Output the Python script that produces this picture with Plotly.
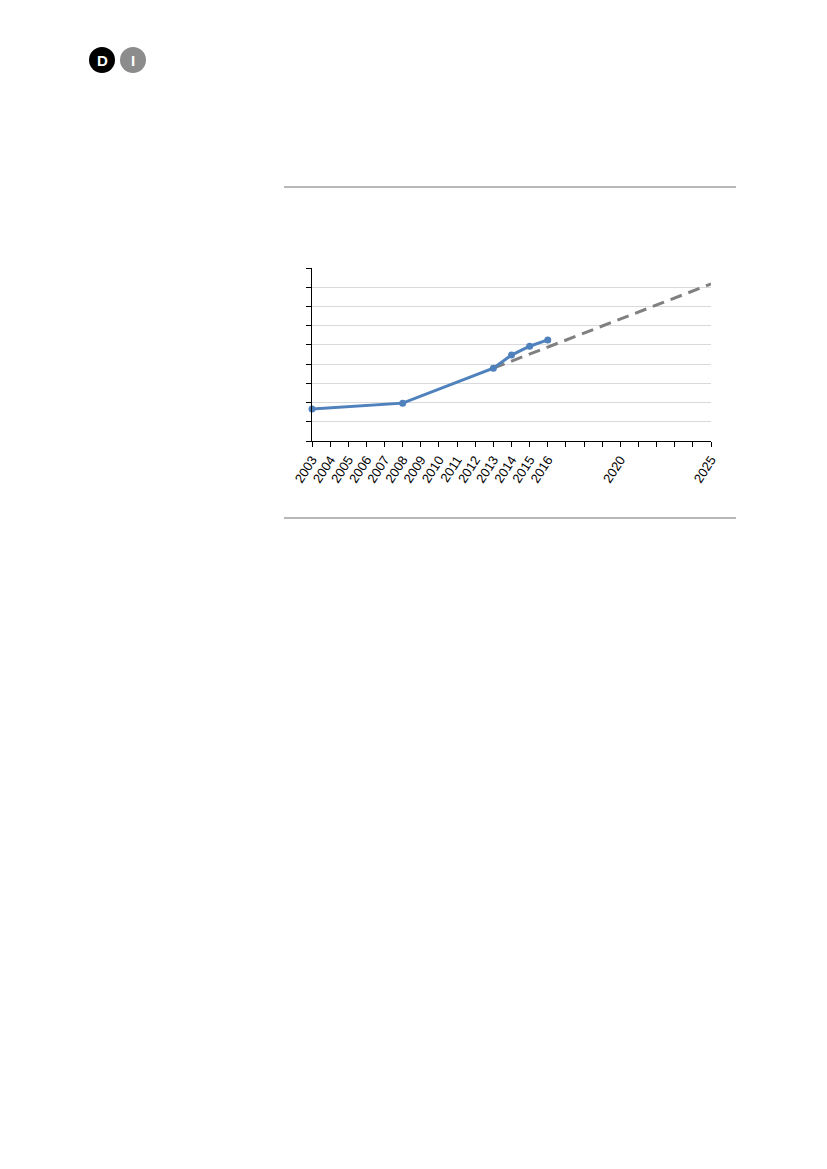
import plotly.graph_objects as go

# data (y axis carries no labels, units = gridline steps)
years = [2003, 2008, 2013, 2014, 2015, 2016]
values = [1.67, 1.97, 3.79, 4.47, 4.93, 5.26]
trend_years = [2013, 2025]
trend_values = [3.79, 8.17]
tick_years = list(range(2003, 2026))
labelled = [2003, 2004, 2005, 2006, 2007, 2008, 2009, 2010, 2011, 2012,
            2013, 2014, 2015, 2016, 2020, 2025]
tick_text = [str(y) if y in labelled else "" for y in tick_years]

W, H = 827, 1169
L, R, T, B = 312, 711, 268, 441


def px(x):
    return (x - L) / (R - L)


def py(y):
    return (B - y) / (B - T)


fig = go.Figure()
fig.add_trace(go.Scatter(x=trend_years, y=trend_values, mode="lines",
                         line=dict(color="#808080", width=3, dash="12px,7px"),
                         cliponaxis=False, showlegend=False))
fig.add_trace(go.Scatter(x=years, y=values, mode="lines+markers",
                         line=dict(color="#4F81BD", width=3),
                         marker=dict(color="#4F81BD", size=7),
                         cliponaxis=False, showlegend=False))

shapes = []
for yy in (187, 518):
    shapes.append(dict(type="line", xref="paper", yref="paper",
                       x0=px(284), x1=px(736), y0=py(yy), y1=py(yy),
                       line=dict(color="#A0A0A0", width=1.5)))
shapes.append(dict(type="circle", xref="paper", yref="paper",
                   x0=px(89), x1=px(115), y0=py(73), y1=py(47),
                   fillcolor="#000000", line=dict(width=0)))
shapes.append(dict(type="circle", xref="paper", yref="paper",
                   x0=px(120), x1=px(146), y0=py(73), y1=py(47),
                   fillcolor="#8C8C8C", line=dict(width=0)))

annotations = [
    dict(text="<b>D</b>", x=px(102), y=py(60), xref="paper", yref="paper",
         xanchor="center", yanchor="middle", showarrow=False,
         font=dict(color="white", size=15, family="Liberation Sans")),
    dict(text="<b>I</b>", x=px(133), y=py(60), xref="paper", yref="paper",
         xanchor="center", yanchor="middle", showarrow=False,
         font=dict(color="white", size=15, family="Liberation Sans")),
]

fig.update_layout(
    width=W, height=H,
    margin=dict(l=L, r=W - R, t=T, b=H - B, pad=0),
    paper_bgcolor="white", plot_bgcolor="white",
    font=dict(family="Liberation Sans, Arial", size=13, color="black"),
    shapes=shapes, annotations=annotations,
    xaxis=dict(range=[2003, 2025], tickvals=tick_years, ticktext=tick_text,
               tickangle=-57, showgrid=False, zeroline=False,
               showline=True, linecolor="black", linewidth=1.2,
               ticks="outside", ticklen=5, tickcolor="black"),
    yaxis=dict(range=[0, 9], dtick=1, showticklabels=False,
               showgrid=True, gridcolor="#D9D9D9", gridwidth=1, zeroline=False,
               showline=True, linecolor="black", linewidth=1.2,
               ticks="outside", ticklen=5, tickcolor="black"),
)

fig.write_html("out.html", config={"displayModeBar": False},
               post_script="document.body.style.margin='0';")
